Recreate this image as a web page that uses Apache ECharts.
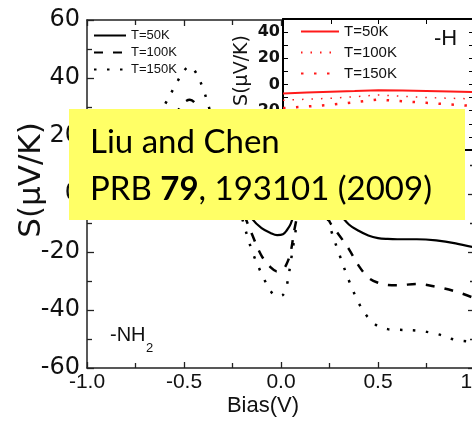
<!DOCTYPE html>
<html><head><meta charset="utf-8">
<script src="https://cdn.jsdelivr.net/npm/echarts@6/dist/echarts.min.js"></script>
<style>html,body{margin:0;padding:0;background:#fff}#c{width:472px;height:422px}</style>
</head><body><div id="c"></div>
<script>
// ---- main panel (-NH2) ----
const bias = [-1.0,-0.9,-0.8,-0.7,-0.6,-0.55,-0.5,-0.47,-0.44,-0.4,-0.35,-0.3,-0.25,-0.2,-0.15,-0.1,-0.05,-0.02,0.01,0.03,0.05,0.07,0.1,0.15,0.2,0.25,0.3,0.35,0.4,0.45,0.5,0.55,0.6,0.7,0.8,0.9,1.0];
const s50  = [3,6,10,14,18.5,20.5,22,22.2,21.5,19,14.5,9,3,-3,-8.5,-11.8,-13.6,-14.2,-13.9,-12.5,-10.3,-6,0,4,3,-1,-6.5,-10.5,-12.7,-14.3,-15.2,-15.5,-15.6,-15.6,-16,-17,-18.5];
const s100 = [2,6,11,17,23,27,31.5,32.5,31,25,18.5,10.5,2.5,-5.5,-13.8,-21.3,-25.5,-26.7,-26,-24,-20,-12,-4,1,-1,-9.5,-14.2,-19,-24.7,-28.8,-30.6,-31.4,-31.5,-31,-32,-33.6,-36];
const s150 = [2,6,12,20,30.7,36.8,42.5,44,42,36,25,14,3,-8.5,-19.5,-27.5,-33.8,-35.2,-34.8,-31.5,-23.5,-15,-4,3,1,-10.8,-20.7,-29.8,-37.5,-42.7,-45.6,-46.6,-46.8,-47.1,-48.2,-50.3,-51];
// ---- inset panel (-H) ----
const insetBias = [-1,-0.75,-0.5,-0.25,0,0.25,0.5,0.75,1];
const h50  = [-6.8,-6.2,-5.6,-5.0,-4.3,-4.6,-5.0,-5.4,-5.8];
const h100 = [-12,-11.2,-10.5,-9.3,-8,-9,-10,-10.5,-11];
const h150 = [-18,-16.8,-15.5,-13.5,-11.5,-12.8,-14,-15.2,-16.5];
const tempLabels = ['T=50K','T=100K','T=150K'];
const mainNames = ['m50','m100','m150'];
const insetNames = ['h50','h100','h150'];

const pairs = (xs, ys) => xs.map((x, i) => [x, ys[i]]);
const labelOf = n => { let i = mainNames.indexOf(n); if (i < 0) i = insetNames.indexOf(n); return tempLabels[i]; };

const axisCol = '#222';
const mainX = (pos, show) => ({
  gridIndex: 0, type: 'value', position: pos, min: -1, max: 1, interval: 0.5,
  axisLine: {show: true, onZero: false, lineStyle: {color: axisCol, width: 1.5}},
  axisTick: {show: true, inside: true, length: 6, lineStyle: {color: axisCol, width: 1.3}},
  minorTick: {show: true, splitNumber: 2, length: 5, lineStyle: {color: axisCol, width: 1.3}},
  splitLine: {show: false},
  axisLabel: {show: show, fontSize: 21, fontFamily: 'Liberation Sans', color: '#111', margin: 4,
    formatter: v => v.toFixed(1), showMinLabel: true, showMaxLabel: true, hideOverlap: false}
});
const mainY = (pos, show) => ({
  gridIndex: 0, type: 'value', position: pos, min: -60, max: 60, interval: 20,
  axisLine: {show: true, onZero: false, lineStyle: {color: axisCol, width: 1.5}},
  axisTick: {show: true, inside: true, length: 7, lineStyle: {color: axisCol, width: 1.3}},
  minorTick: {show: true, splitNumber: 2, length: 5, lineStyle: {color: axisCol, width: 1.3}},
  splitLine: {show: false},
  axisLabel: {show: show, fontSize: 24, fontFamily: 'DejaVu Sans', color: '#111', margin: 7}
});
const insetX = (pos) => ({
  gridIndex: 1, type: 'value', position: pos, min: -1, max: 1, interval: 0.5, z: 4,
  axisLine: {show: true, onZero: false, lineStyle: {color: '#000', width: 2}},
  axisTick: {show: true, inside: true, length: 5, lineStyle: {color: '#000'}},
  splitLine: {show: false}, axisLabel: {show: false}
});
const insetY = (pos, show) => ({
  gridIndex: 1, type: 'value', position: pos, min: -50, max: 50, interval: 10, z: 4,
  axisLine: {show: true, onZero: false, lineStyle: {color: '#000', width: 2}},
  axisTick: {show: true, inside: true, length: 5, lineStyle: {color: '#000'}},
  splitLine: {show: false},
  axisLabel: {show: show, fontSize: 16, fontWeight: 'bold', fontFamily: 'DejaVu Sans', color: '#111', margin: 3,
    formatter: v => (Math.round(v) % 20 === 0 ? String(v) : '')}
});

const xa0 = mainX('bottom', true);
Object.assign(xa0, {name: 'Bias(V)', nameLocation: 'middle', nameGap: 27, nameMoveOverlap: false,
  nameTextStyle: {fontSize: 22, fontFamily: 'Liberation Sans', color: '#111', padding: [0, 36, 0, 0]}});
const ya0 = mainY('left', true);
Object.assign(ya0, {name: 'S(\u03bcV/K)', nameLocation: 'middle', nameGap: 40, nameMoveOverlap: false,
  nameTextStyle: {fontSize: 31, fontFamily: 'DejaVu Sans', color: '#111', padding: [0, 0, 0, 28]}});
const ya2 = insetY('left', true);
Object.assign(ya2, {name: 'S(\u03bcV/K)', nameLocation: 'middle', nameGap: 31, nameMoveOverlap: false,
  nameTextStyle: {fontSize: 19, fontFamily: 'DejaVu Sans', color: '#111', padding: [0, 0, 0, 28]}});

const mainLine = (name, ys, type, w) => ({
  name, type: 'line', xAxisIndex: 0, yAxisIndex: 0, data: pairs(bias, ys), smooth: 0.35,
  symbol: 'none', lineStyle: {color: '#000', width: w, type: type}, z: 2, silent: true
});
const insetLine = (name, ys, type, w) => ({
  name, type: 'line', xAxisIndex: 2, yAxisIndex: 2, data: pairs(insetBias, ys), smooth: false,
  symbol: 'none', lineStyle: {color: '#ff1a1a', width: w, type: type}, z: 5, silent: true
});

const option = {
  animation: false,
  backgroundColor: '#fff',
  grid: [
    {left: 87, right: -3, top: 20, bottom: 54, show: false, outerBoundsMode: 'none'},
    {left: 283, right: -2, top: 19, bottom: 272, show: true, backgroundColor: '#fff', borderWidth: 0, z: 3, outerBoundsMode: 'none'}
  ],
  xAxis: [xa0, mainX('top', false), insetX('bottom'), insetX('top')],
  yAxis: [ya0, mainY('right', false), ya2, insetY('right', false)],
  legend: [
    {data: mainNames, orient: 'vertical', left: 93, top: 29, padding: 0, itemWidth: 32, itemHeight: 14, itemGap: 4,
     selectedMode: false, formatter: labelOf, itemStyle: {opacity: 0},
     textStyle: {fontSize: 13, fontFamily: 'Liberation Sans', color: '#111'}},
    {data: insetNames, orient: 'vertical', left: 300, top: 24, padding: 0, itemWidth: 38, itemHeight: 14, itemGap: 6, z: 6,
     selectedMode: false, formatter: labelOf, itemStyle: {opacity: 0},
     textStyle: {fontSize: 15, fontFamily: 'Liberation Sans', color: '#111'}}
  ],
  series: [
    mainLine('m50', s50, 'solid', 2.2),
    mainLine('m100', s100, [9, 10], 2.5),
    mainLine('m150', s150, [2.5, 10.5], 2.5),
    insetLine('h50', h50, 'solid', 2),
    insetLine('h100', h100, [1.5, 8], 1.5),
    insetLine('h150', h150, [2.5, 10.5], 2.5)
  ],
  graphic: [
    {type: 'text', x: 110, y: 335, z: 8, style: {text: '-NH', fill: '#111', font: '20px "Liberation Sans"', textAlign: 'left', textVerticalAlign: 'middle', verticalAlign: 'middle'}},
    {type: 'text', x: 146, y: 348, z: 8, style: {text: '2', fill: '#111', font: '13px "Liberation Sans"', textAlign: 'left', textVerticalAlign: 'middle', verticalAlign: 'middle'}},
    {type: 'text', x: 434, y: 39, z: 8, style: {text: '-H', fill: '#111', font: '22px "Liberation Sans"', textAlign: 'left', textVerticalAlign: 'middle', verticalAlign: 'middle'}},
    {type: 'rect', z: 10, shape: {x: 69, y: 109, width: 396, height: 111}, style: {fill: '#ffff66'}},
    {type: 'text', x: 90, y: 142, z: 11, style: {text: 'Liu and Chen', fill: '#000', font: '33px Lato', textAlign: 'left', textVerticalAlign: 'middle', verticalAlign: 'middle'}},
    {type: 'text', x: 90, y: 189, z: 11, style: {text: '{n|PRB }{b|79}{n|, 193101 (2009)}', fill: '#000', textAlign: 'left', textVerticalAlign: 'middle', verticalAlign: 'middle',
      rich: {n: {fontSize: 33, fontFamily: 'Lato', fill: '#000'}, b: {fontSize: 33, fontFamily: 'Lato', fontWeight: 'bold', fill: '#000'}}}}
  ]
};
const chart = echarts.init(document.getElementById('c'), null, {renderer: 'canvas'});
chart.setOption(option);
</script>
</body></html>
